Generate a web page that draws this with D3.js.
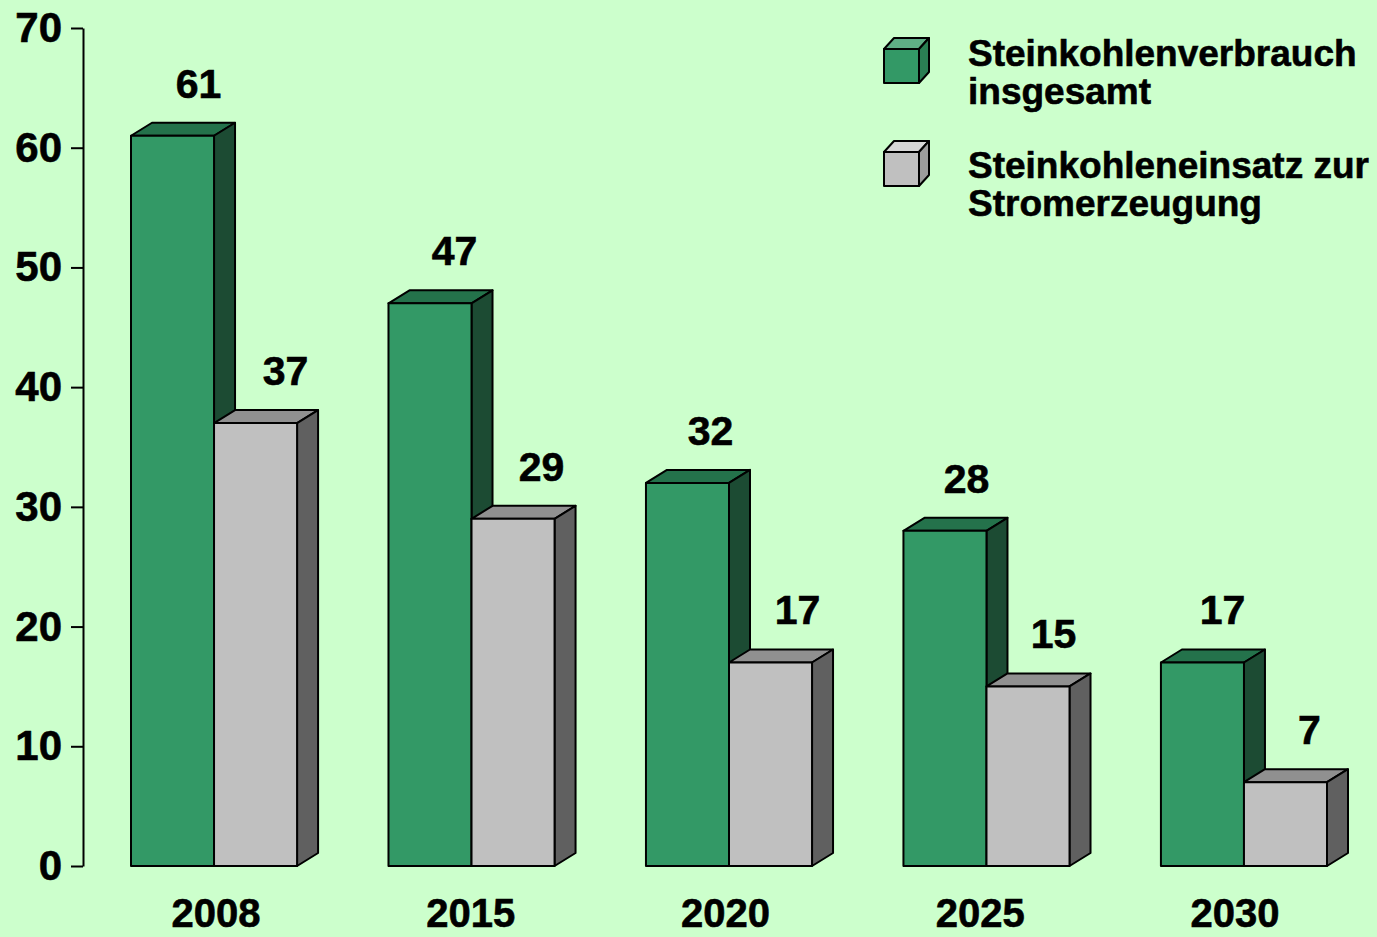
<!doctype html>
<html>
<head>
<meta charset="utf-8">
<title>Steinkohle</title>
<script src="https://cdnjs.cloudflare.com/ajax/libs/d3/7.8.5/d3.min.js"></script>
<style>
body { margin:0; background:#CCFFCC; }
svg { display:block; font-family:"Liberation Sans", Arial, sans-serif; font-weight:bold; }
svg text { stroke:#000; stroke-width:0.6px; }
</style>
</head>
<body>
<div id="chartContainer"></div>
<script>
// data
var years = ["2008", "2015", "2020", "2025", "2030"];
var seriesNames = ["Steinkohlenverbrauch insgesamt", "Steinkohleneinsatz zur Stromerzeugung"];
var verbrauch = [61, 47, 32, 28, 17];
var strom = [37, 29, 17, 15, 7];
var yTicks = [0, 10, 20, 30, 40, 50, 60, 70];
var legendLines = [["Steinkohlenverbrauch", "insgesamt"], ["Steinkohleneinsatz zur", "Stromerzeugung"]];

var width = 1377, height = 937;
var depth = {x: 21, y: 13};

// front, top, side colours per series
var colors = [
	{front:"#339966", top:"#24724B", side:"#1C4B33"},
	{front:"#C0C0C0", top:"#909090", side:"#606060"}
];
var legendColors = [
	{front:"#339966", top:"#5FAE85", side:"#2A7F53"},
	{front:"#C0C0C0", top:"#D6D6D6", side:"#9C9C9C"}
];

var svg = d3.select("#chartContainer").append("svg")
	.attr("width", width).attr("height", height);

svg.append("rect").attr("width", width).attr("height", height).attr("fill", "#CCFFCC");

var y = d3.scaleLinear().domain([0, 70]).range([866, 28]);

var x = d3.scaleBand().domain(years)
	.range([131, 131 + 4 * 257.5 + 166])
	.paddingInner(0.355).paddingOuter(0);

var xs = d3.scaleBand().domain([0, 1]).range([0, x.bandwidth()]);

// category labels sit on their own slightly narrower axis
var xLabel = d3.scalePoint().domain(years).range([216, 1235]);

// y axis
var yAxis = svg.append("g")
	.attr("transform", "translate(83,0)")
	.call(d3.axisLeft(y).tickValues(yTicks).tickSize(12).tickSizeOuter(0).tickPadding(9));
yAxis.select(".domain").attr("stroke", "#000").attr("stroke-width", 2);
yAxis.selectAll(".tick line").attr("stroke", "#000").attr("stroke-width", 2);
yAxis.selectAll(".tick text")
	.attr("fill", "#000")
	.style("font-size", "42px")
	.style("font-family", "Liberation Sans, Arial, sans-serif")
	.style("font-weight", "bold");

function box(g, x0, w, top, c) {
	var base = y(0);
	// top face
	g.append("path")
		.attr("d", "M" + x0 + "," + top + "L" + (x0 + depth.x) + "," + (top - depth.y) +
			"L" + (x0 + w + depth.x) + "," + (top - depth.y) + "L" + (x0 + w) + "," + top + "Z")
		.attr("fill", c.top);
	// side face
	g.append("path")
		.attr("d", "M" + (x0 + w) + "," + top + "L" + (x0 + w + depth.x) + "," + (top - depth.y) +
			"L" + (x0 + w + depth.x) + "," + (base - depth.y) + "L" + (x0 + w) + "," + base + "Z")
		.attr("fill", c.side);
	// front face
	g.append("rect")
		.attr("x", x0).attr("y", top)
		.attr("width", w).attr("height", base - top)
		.attr("fill", c.front);
	g.selectAll("path, rect")
		.attr("stroke", "#000").attr("stroke-width", 2).attr("stroke-linejoin", "round");
}

var values = [verbrauch, strom];
var labelShift = [26, 30];

years.forEach(function (yr, i) {
	var g = svg.append("g");
	values.forEach(function (vals, s) {
		var x0 = x(yr) + xs(s);
		box(g, x0, xs.bandwidth(), y(vals[i]), colors[s]);
	});
});

// value labels
years.forEach(function (yr, i) {
	values.forEach(function (vals, s) {
		svg.append("text")
			.attr("x", x(yr) + xs(s) + xs.bandwidth() / 2 + labelShift[s] - i * 1.5)
			.attr("y", y(vals[i]) - depth.y - 25)
			.attr("text-anchor", "middle")
			.style("font-size", "41px")
			.text(vals[i]);
	});
});

// category labels
svg.selectAll(".cat").data(years).enter().append("text")
	.attr("class", "cat")
	.attr("x", function (d) { return xLabel(d); })
	.attr("y", 927)
	.attr("text-anchor", "middle")
	.style("font-size", "40px")
	.text(function (d) { return d; });

// legend
var leg = svg.append("g");
legendLines.forEach(function (lines, k) {
	var ly = 49 + k * 103;
	var lx = 884, lw = 35, lh = 34, ldx = 10, ldy = 11;
	var c = legendColors[k];
	var lg = leg.append("g");
	lg.append("path")
		.attr("d", "M" + lx + "," + ly + "L" + (lx + ldx) + "," + (ly - ldy) + "L" + (lx + lw + ldx) + "," + (ly - ldy) + "L" + (lx + lw) + "," + ly + "Z")
		.attr("fill", c.top);
	lg.append("path")
		.attr("d", "M" + (lx + lw) + "," + ly + "L" + (lx + lw + ldx) + "," + (ly - ldy) + "L" + (lx + lw + ldx) + "," + (ly + lh - ldy) + "L" + (lx + lw) + "," + (ly + lh) + "Z")
		.attr("fill", c.side);
	lg.append("rect").attr("x", lx).attr("y", ly).attr("width", lw).attr("height", lh).attr("fill", c.front);
	lg.selectAll("path, rect").attr("stroke", "#000").attr("stroke-width", 2).attr("stroke-linejoin", "round");

	lines.forEach(function (t, j) {
		lg.append("text")
			.attr("x", 968)
			.attr("y", 66 + k * 112 + j * 38)
			.style("font-size", "37px")
			.text(t);
	});
});
</script>
</body>
</html>
